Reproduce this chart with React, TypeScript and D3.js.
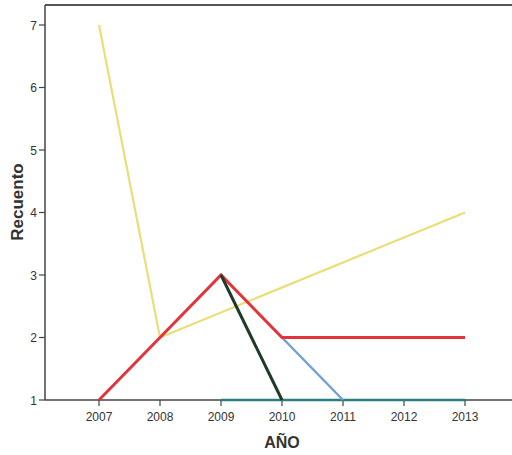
import React from "react";
import * as d3 from "d3";

const years = [2007, 2008, 2009, 2010, 2011, 2012, 2013];
const yTicks = [1, 2, 3, 4, 5, 6, 7];

type Pt = { x: number; y: number };
const yellowSeries: Pt[] = [
  { x: 2007, y: 7 },
  { x: 2008, y: 2 },
  { x: 2013, y: 4 },
];
const redSeries: Pt[] = [
  { x: 2007, y: 1 },
  { x: 2008, y: 2 },
  { x: 2009, y: 3 },
  { x: 2010, y: 2 },
  { x: 2011, y: 2 },
  { x: 2012, y: 2 },
  { x: 2013, y: 2 },
];
const blueSeries: Pt[] = [
  { x: 2010, y: 2 },
  { x: 2011, y: 1 },
];
const darkGreenSeries: Pt[] = [
  { x: 2009, y: 3 },
  { x: 2010, y: 1 },
];
const tealSeries: Pt[] = [
  { x: 2009, y: 1 },
  { x: 2010, y: 1 },
  { x: 2011, y: 1 },
  { x: 2012, y: 1 },
  { x: 2013, y: 1 },
];

const seriesList = [
  { data: tealSeries, color: "#2a7f80", width: 2.5 },
  { data: yellowSeries, color: "#e8df78", width: 2.2 },
  { data: blueSeries, color: "#6e9fd6", width: 2.4 },
  { data: redSeries, color: "#e0353b", width: 3 },
  { data: darkGreenSeries, color: "#1f3b28", width: 3 },
];

export default function App() {
  const W = 512;
  const H = 455;
  const left = 45;
  const top = 5;
  const bottom = 400;
  const x = d3.scaleLinear().domain([2007, 2013]).range([99, 465]);
  const y = d3.scaleLinear().domain([1, 7]).range([bottom, 25]);
  const line = d3
    .line<Pt>()
    .x((d) => x(d.x))
    .y((d) => y(d.y));
  const font = "'Liberation Sans', Arial, sans-serif";
  return (
    <svg
      width={W}
      height={H}
      style={{ position: "absolute", left: 0, top: 0, background: "#fff" }}
      fontFamily={font}
    >
      <line x1={left} x2={W} y1={top} y2={top} stroke="#555" strokeWidth={2} />
      <line x1={left} x2={left} y1={top} y2={bottom} stroke="#444" strokeWidth={1.5} />
      <line x1={left} x2={W} y1={bottom} y2={bottom} stroke="#444" strokeWidth={1.5} />
      {yTicks.map((t) => (
        <g key={t}>
          <line x1={left - 6} x2={left} y1={y(t)} y2={y(t)} stroke="#444" strokeWidth={1.2} />
          <text x={left - 8} y={y(t) + 4.5} textAnchor="end" fontSize={12} fill="#333">
            {t}
          </text>
        </g>
      ))}
      {years.map((t) => (
        <g key={t}>
          <line x1={x(t)} x2={x(t)} y1={bottom} y2={bottom + 6} stroke="#444" strokeWidth={1.2} />
          <text x={x(t)} y={bottom + 21} textAnchor="middle" fontSize={12} fill="#333">
            {t}
          </text>
        </g>
      ))}
      {seriesList.map((s, i) => (
        <path
          key={i}
          d={line(s.data) || ""}
          fill="none"
          stroke={s.color}
          strokeWidth={s.width}
          strokeLinejoin="miter"
        />
      ))}
      <text x={282} y={448} textAnchor="middle" fontSize={16} fontWeight="bold" fill="#333">
        AÑO
      </text>
      <text
        transform="translate(23,202) rotate(-90)"
        textAnchor="middle"
        fontSize={17}
        fontWeight="bold"
        fill="#333"
      >
        Recuento
      </text>
    </svg>
  );
}
